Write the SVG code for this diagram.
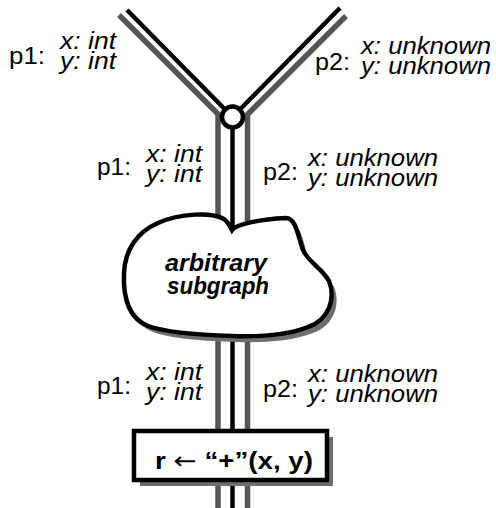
<svg xmlns="http://www.w3.org/2000/svg" width="496" height="508" viewBox="0 0 496 508">
<defs>
<style>
.gray{fill:none;stroke:#555;stroke-width:5.5;stroke-linejoin:miter}
.blk{fill:none;stroke:#000;stroke-width:4.5}
.shadow{fill:#6e6e6e;stroke:none}
.node{fill:#fff;stroke:#000;stroke-width:4.5}
.lbl{font-family:"Liberation Sans",Arial,Helvetica,sans-serif;font-size:24px;fill:#000}
.it{font-style:italic}
.bd{font-weight:bold}
</style>
<path id="blobshape" d="M232,230 C236,224 262,219 286,218 C296,218 298,236 303,250 C308,262 322,268 329,281 C336,298 329,320 308,327 C288,335 258,337 232,336 C200,335 168,333 148,326 C128,318 123,297 124,273 C125,250 137,232 158,223 C180,213 212,212 224,219 C228,222 230,226 232,230 Z"/>
</defs>
<rect width="496" height="508" fill="#fff"/>
<g id="connectors">
<path class="gray" d="M119,15 L218,114 L218,508"/>
<path class="gray" d="M346,16 L247.5,114.5 L247.5,508"/>
<path class="blk" d="M127,10 L232.5,117"/>
<path class="blk" d="M340,8 L232.5,117"/>
<path class="blk" d="M232.5,117 L232.5,508"/>
</g>
<g id="merge">
<circle cx="232.5" cy="117" r="10.5" class="node" stroke-width="4"/>
</g>
<g id="subgraph">
<use href="#blobshape" class="shadow" transform="translate(5,6)"/>
<use href="#blobshape" class="node"/>
<text class="lbl it bd" x="216" y="271" text-anchor="middle" textLength="102" lengthAdjust="spacingAndGlyphs" font-size="26">arbitrary</text>
<text class="lbl it bd" x="218" y="294" text-anchor="middle" textLength="102" lengthAdjust="spacingAndGlyphs" font-size="26">subgraph</text>
</g>
<g id="op">
<rect class="shadow" x="140" y="437" width="193" height="49"/>
<rect class="node" x="134" y="431" width="193" height="49" stroke-width="4"/>
<text class="lbl bd" x="155" y="469" textLength="158" lengthAdjust="spacingAndGlyphs">r <tspan font-weight="normal" font-family="DejaVu Sans, sans-serif">←</tspan> “+”(x, y)</text>
</g>
<g id="labels">
<text class="lbl" x="9" y="64" textLength="36" lengthAdjust="spacingAndGlyphs">p1:</text>
<text class="lbl it" x="60" y="49" textLength="56" lengthAdjust="spacingAndGlyphs">x: int</text>
<text class="lbl it" x="60" y="69" textLength="56" lengthAdjust="spacingAndGlyphs">y: int</text>
<text class="lbl" x="315" y="70" textLength="35" lengthAdjust="spacingAndGlyphs">p2:</text>
<text class="lbl it" x="361" y="54" textLength="130" lengthAdjust="spacingAndGlyphs">x: unknown</text>
<text class="lbl it" x="361" y="74" textLength="130" lengthAdjust="spacingAndGlyphs">y: unknown</text>
<text class="lbl" x="97" y="175" textLength="34" lengthAdjust="spacingAndGlyphs">p1:</text>
<text class="lbl it" x="146" y="162" textLength="56" lengthAdjust="spacingAndGlyphs">x: int</text>
<text class="lbl it" x="146" y="182" textLength="56" lengthAdjust="spacingAndGlyphs">y: int</text>
<text class="lbl" x="263" y="180" textLength="35" lengthAdjust="spacingAndGlyphs">p2:</text>
<text class="lbl it" x="308" y="166" textLength="130" lengthAdjust="spacingAndGlyphs">x: unknown</text>
<text class="lbl it" x="308" y="186" textLength="130" lengthAdjust="spacingAndGlyphs">y: unknown</text>
<text class="lbl" x="97" y="394" textLength="34" lengthAdjust="spacingAndGlyphs">p1:</text>
<text class="lbl it" x="146" y="380" textLength="56" lengthAdjust="spacingAndGlyphs">x: int</text>
<text class="lbl it" x="146" y="400" textLength="56" lengthAdjust="spacingAndGlyphs">y: int</text>
<text class="lbl" x="263" y="397" textLength="35" lengthAdjust="spacingAndGlyphs">p2:</text>
<text class="lbl it" x="308" y="382" textLength="130" lengthAdjust="spacingAndGlyphs">x: unknown</text>
<text class="lbl it" x="308" y="402" textLength="130" lengthAdjust="spacingAndGlyphs">y: unknown</text>
</g>
</svg>
